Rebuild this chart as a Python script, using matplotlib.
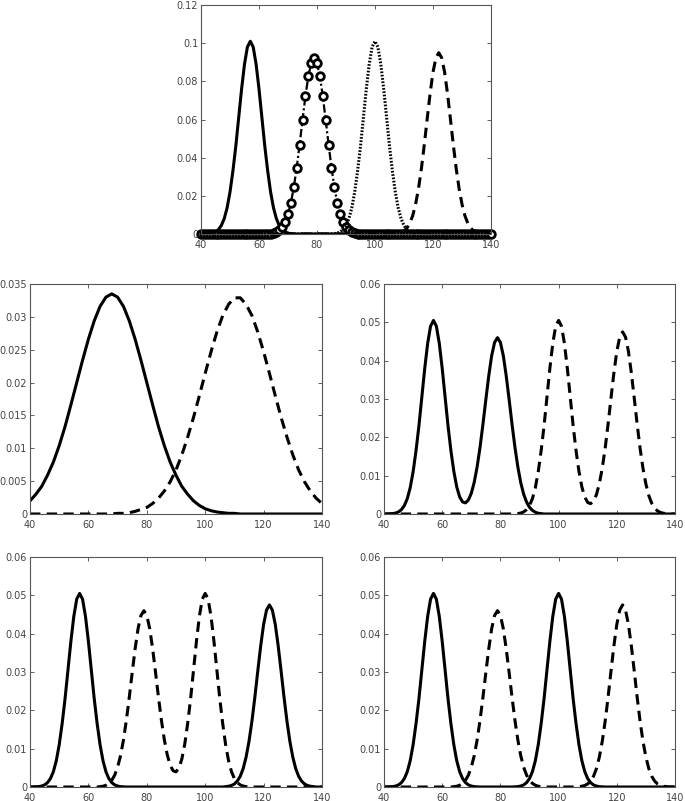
import numpy as np
import matplotlib
matplotlib.use("Agg")
from matplotlib import pyplot as plt
from matplotlib.ticker import FuncFormatter

# x grid (step 1) for the narrow peaks, step 2 for the wide ones
x = np.arange(40, 141)
x2 = np.arange(40, 141, 2)

# narrow peaks
peak57 = [0] * 2 + [0.0001, 0.0002, 0.0005, 0.0011, 0.0023, 0.0044, 0.0080, 0.0137, 0.022, 0.033,
                    0.046, 0.061, 0.076, 0.089, 0.098, 0.101, 0.098, 0.089, 0.076, 0.061, 0.046,
                    0.033, 0.022, 0.0137, 0.0080, 0.0044, 0.0023, 0.0011, 0.0005, 0.0002, 0.0001] + [0] * 68
peak79 = [0] * 24 + [0.0002, 0.0004, 0.0009, 0.0019, 0.0035, 0.0062, 0.0103, 0.0163, 0.0245, 0.0348,
                     0.0468, 0.0597, 0.0721, 0.0826, 0.0895, 0.092, 0.0895, 0.0826, 0.0721, 0.0597,
                     0.0468, 0.0348, 0.0245, 0.0163, 0.0103, 0.0062, 0.0035, 0.0019, 0.0009, 0.0004,
                     0.0002] + [0] * 46
peak100 = [0] * 45 + [0.0001, 0.0002, 0.0005, 0.0011, 0.0023, 0.0044, 0.0080, 0.0137, 0.022, 0.033,
                      0.046, 0.061, 0.076, 0.089, 0.098, 0.101, 0.098, 0.089, 0.076, 0.061, 0.046,
                      0.033, 0.022, 0.0137, 0.0080, 0.0044, 0.0023, 0.0011, 0.0005, 0.0002, 0.0001] + [0] * 25
peak122 = [0] * 67 + [0.0002, 0.0004, 0.0008, 0.0016, 0.0031, 0.0056, 0.0096, 0.0156, 0.0238, 0.0343,
                      0.0468, 0.0604, 0.0736, 0.0848, 0.0923, 0.095, 0.0923, 0.0848, 0.0736, 0.0604,
                      0.0468, 0.0343, 0.0238, 0.0156, 0.0096, 0.0056, 0.0031, 0.0016, 0.0008, 0.0004,
                      0.0002] + [0] * 3

# wide peaks (middle left panel), on x2
wide68 = [0.0020, 0.0030, 0.0042, 0.0059, 0.0079, 0.0104, 0.0133, 0.0166, 0.0200, 0.0234, 0.0266,
          0.0294, 0.0316, 0.0330, 0.0335, 0.0330, 0.0316, 0.0294, 0.0266, 0.0234, 0.0200, 0.0166,
          0.0133, 0.0104, 0.0079, 0.0059, 0.0042, 0.0030, 0.0020, 0.0013, 0.0008, 0.0005, 0.0003,
          0.0002, 0.0001, 0.0001] + [0] * 15
wide111 = [0] * 15 + [0.0001, 0.0001, 0.0002, 0.0004, 0.0007, 0.0010, 0.0016, 0.0024, 0.0035, 0.0049,
                      0.0067, 0.0090, 0.0117, 0.0147, 0.0180, 0.0214, 0.0247, 0.0277, 0.0302, 0.0319,
                      0.0329, 0.0329, 0.0319, 0.0302, 0.0277, 0.0247, 0.0214, 0.0180, 0.0147, 0.0117,
                      0.0090, 0.0067, 0.0049, 0.0035, 0.0024, 0.0016]

p57, p79, p100, p122 = (np.array(v) for v in (peak57, peak79, peak100, peak122))

plt.rcParams['lines.scale_dashes'] = False
LW = 2.2
DASH = (0, (7.5, 4.5))
TICKCOL = '#444444'


def style(ax, ymax, ystep):
    ax.set_xlim(40, 140)
    ax.set_ylim(0, ymax)
    ax.set_xticks(np.arange(40, 141, 20))
    ax.set_yticks(np.arange(0, ymax + ystep / 2, ystep))
    ax.yaxis.set_major_formatter(FuncFormatter(lambda v, p: '%g' % round(v, 4)))
    ax.tick_params(direction='in', top=True, right=True, length=3, width=0.6,
                   labelsize=7, colors=TICKCOL)
    ax.tick_params(axis='x', pad=4)
    ax.tick_params(axis='y', pad=2)
    for s in ax.spines.values():
        s.set_color('#555555')
        s.set_linewidth(0.8)


W, H = 685, 801
fig = plt.figure(figsize=(W / 100, H / 100), dpi=100)


def box(l, t, r, b):
    return fig.add_axes([l / W, 1 - b / H, (r - l) / W, (b - t) / H])


# top panel
ax = box(201, 5, 491, 234)
ax.plot(x, p57, color='k', lw=LW)
ax.plot(x, p79, color='k', lw=1.6, ls=(0, (6, 2, 1.5, 2)), marker='o', ms=5.5,
        mfc='white', mec='k', mew=2.0, clip_on=False)
ax.plot(x, p100, color='k', lw=LW, ls=(0, (1.2, 1.2)))
ax.plot(x, p122, color='k', lw=LW, ls=DASH)
style(ax, 0.12, 0.02)

# middle left
ax = box(30, 284, 322, 514)
ax.plot(x2, wide68, color='k', lw=LW)
ax.plot(x2, wide111, color='k', lw=LW, ls=DASH)
style(ax, 0.035, 0.005)

# middle right
ax = box(384, 284, 675, 514)
ax.plot(x, 0.5 * (p57 + p79), color='k', lw=LW)
ax.plot(x, 0.5 * (p100 + p122), color='k', lw=LW, ls=DASH)
style(ax, 0.06, 0.01)

# bottom left
ax = box(30, 557, 322, 787)
ax.plot(x, 0.5 * (p57 + p122), color='k', lw=LW)
ax.plot(x, 0.5 * (p79 + p100), color='k', lw=LW, ls=DASH)
style(ax, 0.06, 0.01)

# bottom right
ax = box(384, 557, 675, 787)
ax.plot(x, 0.5 * (p57 + p100), color='k', lw=LW)
ax.plot(x, 0.5 * (p79 + p122), color='k', lw=LW, ls=DASH)
style(ax, 0.06, 0.01)

fig.savefig('out.png', dpi=100)
